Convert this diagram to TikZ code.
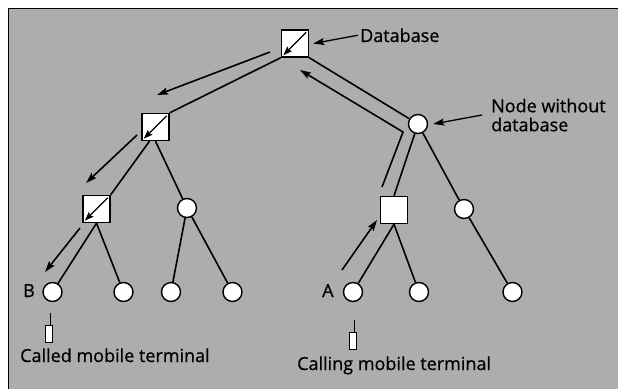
\documentclass[tikz,border=0pt]{standalone}
\usepackage{fontspec}
\setmainfont{Open Sans}[FakeBold=0.7]
\usetikzlibrary{arrows.meta,calc}
\definecolor{bg}{gray}{0.68}
\begin{document}
\begin{tikzpicture}[x=1pt,y=-1pt,
  edge/.style={line width=1.6pt},
  flow/.style={line width=1.6pt,-{Stealth[length=11pt,width=7pt,inset=2pt]}},
  callout/.style={line width=1.3pt,-{Stealth[length=11pt,width=7pt,inset=2pt]}},
  inarrow/.style={line width=1.4pt,-{Stealth[length=9pt,width=6.5pt,inset=1.5pt]}},
  dbnode/.style={draw,line width=1.4pt,fill=white,minimum size=27pt,inner sep=0pt},
  plain/.style={draw,circle,line width=1.4pt,fill=white,minimum size=19pt,inner sep=0pt},
  term/.style={draw,line width=0.9pt,fill=white,minimum width=7pt,minimum height=17pt,inner sep=0pt},
  lbl/.style={inner sep=0pt,font=\fontsize{18}{19}\selectfont}
]
\useasboundingbox (0,0) rectangle (618,389);
\fill[white] (0,0) rectangle (618,389);
\fill[bg] (8,8) rectangle (618,389);
\draw[line width=1pt] (8,389) -- (8,8) -- (618,8);

% tree nodes
\node[dbnode] (root) at (295,43.5) {};
\node[dbnode] (L1) at (155.5,127) {};
\node[plain] (R1) at (418,124) {};
\node[dbnode] (L2a) at (96.5,209) {};
\node[plain] (L2b) at (187,208) {};
\node[dbnode] (R2a) at (394,210) {};
\node[plain] (R2b) at (464,209) {};
\node[plain] (B) at (52.5,292) {};
\node[plain] (b2) at (123.5,292) {};
\node[plain] (b3) at (171,292) {};
\node[plain] (b4) at (232.5,292) {};
\node[plain] (A) at (353,292) {};
\node[plain] (a2) at (419,292) {};
\node[plain] (a3) at (512.5,292) {};

% tree edges
\draw[edge] (root.south west) -- (L1.north east);
\draw[edge] (root.south east) -- (R1);
\draw[edge] (L1.247) -- (L2a.north east);
\draw[edge] (L1.south) -- (L2b);
\draw[edge] (R1) -- (R2a.north);
\draw[edge] (R1) -- (R2b);
\draw[edge] (L2a.south) -- (B);
\draw[edge] (L2a.south) -- (b2);
\draw[edge] (L2b) -- (b3);
\draw[edge] (L2b) -- (b4);
\draw[edge] (R2a.south) -- (A);
\draw[edge] (R2a.south) -- (a2);
\draw[edge] (R2b) -- (a3);

% database marks
\foreach \n in {root,L1,L2a}
  \draw[inarrow] ([shift={(-3,3)}]\n.north east) -- ([shift={(2.5,-2.5)}]\n.south west);

% signalling path
\coordinate (f1s) at (270,52);  \coordinate (f1e) at (157,95);
\coordinate (f2s) at (137,135); \coordinate (f2e) at (86,183);
\coordinate (f3s) at (80,228);  \coordinate (f3e) at (45,272);
\coordinate (f4s) at (342,270); \coordinate (f4e) at (377,220);
\coordinate (f5s) at (382,187); \coordinate (f5m) at (403,132); \coordinate (f5e) at (300,70);
\draw[flow] (f1s) -- (f1e);
\draw[flow] (f2s) -- (f2e);
\draw[flow] (f3s) -- (f3e);
\draw[flow] (f4s) -- (f4e);
\draw[flow] (f5s) -- (f5m) -- (f5e);

% labels
\node[lbl,anchor=base west] (labB) at (23,297) {B};
\node[lbl,anchor=base west] (labA) at (322,297) {A};
\node[lbl,anchor=base west] (dbl) at (360,42) {Database};
\node[lbl,align=left,anchor=west] (nwd) at (491,115) {Node without\\database};
\draw[callout] ([xshift=-2pt]dbl.west) -- ([xshift=4pt]root.east);
\draw[callout] ([xshift=-9pt]nwd.west) -- ([xshift=5pt]R1.east);

% mobile terminals
\node[term] (tB) at (49,334) {};
\coordinate (tBant) at (50,313);
\draw[line width=0.9pt] (tBant) -- (tBant |- tB.north);
\node[lbl,anchor=base west] (cB) at (20,362) {Called mobile terminal};
\node[term] (tA) at (353,341) {};
\coordinate (tAant) at (354,320);
\draw[line width=0.9pt] (tAant) -- (tAant |- tA.north);
\node[lbl,anchor=base west] (cA) at (297,370) {Calling mobile terminal};
\end{tikzpicture}
\end{document}
